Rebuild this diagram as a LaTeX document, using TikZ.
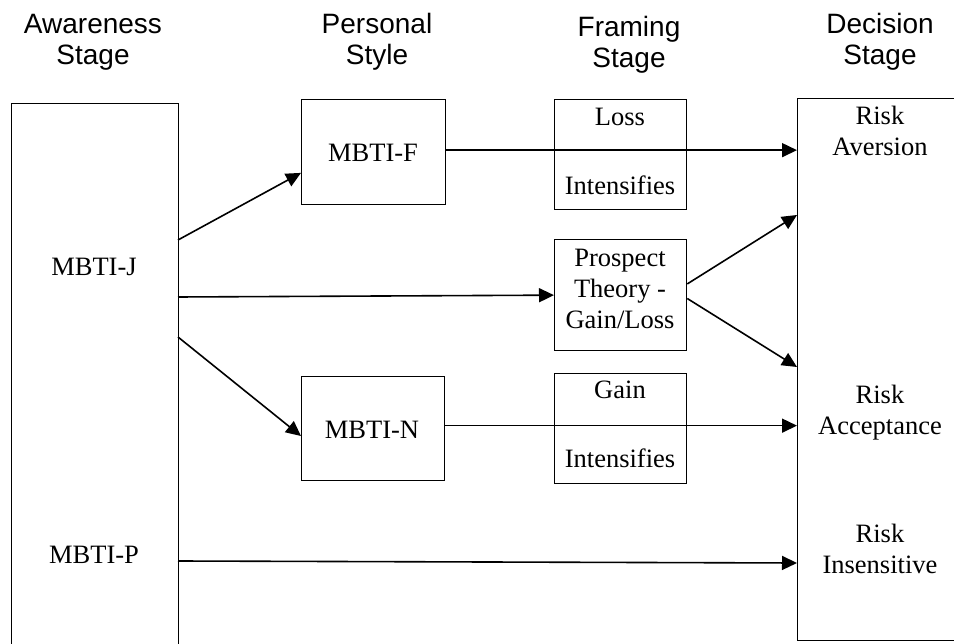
\documentclass[tikz,border=0pt]{standalone}
\usepackage{fontspec}
\setmainfont{Liberation Serif}
\newfontfamily\hdrfont{Liberation Sans}
\usetikzlibrary{arrows.meta,calc}
\begin{document}
\begin{tikzpicture}[x=1pt,y=-1pt,
  box/.style={draw, line width=1.3pt, inner sep=0pt, anchor=north west},
  hd/.style={font=\hdrfont\fontsize{28}{31}\selectfont, align=center, inner sep=0pt},
  tx/.style={font=\fontsize{26.5}{31}\selectfont, align=center, inner sep=0pt},
  arr/.style={line width=1.6pt, -{Triangle[length=15pt,width=14pt]}}]
\useasboundingbox (0,0) rectangle (954,644);
\clip (0,0) rectangle (954,644);
% headers
\node[hd] (h1) at (93,42) {Awareness\\Stage};
\node[hd] (h2) at (377,42) {Personal\\Style};
\node[hd] (h3) at (629,45) {Framing\\Stage};
\node[hd] (h4) at (880,42) {Decision\\Stage};
% boxes
\node[box, minimum width=167pt, minimum height=600pt] (aw) at (11,103) {};
\node[box, minimum width=144pt, minimum height=105pt] (mf) at (301,99) {};
\node[box, minimum width=132pt, minimum height=110pt] (loss) at (554,99) {};
\node[box, minimum width=132pt, minimum height=111pt] (pt) at (554,239) {};
\node[box, minimum width=132pt, minimum height=110pt] (gain) at (554,373) {};
\node[box, minimum width=143pt, minimum height=104pt] (mn) at (301,376) {};
\node[box, minimum width=200pt, minimum height=542pt] (dec) at (797,98) {};
% texts
\node[tx] (tj) at (94,267) {MBTI-J};
\node[tx] (tp) at (94,555) {MBTI-P};
\node[tx] (tf) at (373,153) {MBTI-F};
\node[tx] (tn) at (372,430) {MBTI-N};
\node[tx] (tl1) at (620,117) {Loss};
\node[tx] (tl2) at (620,185) {Intensifies};
\node[tx] (tpt) at (620,289) {Prospect\\Theory -\\Gain/Loss};
\node[tx] (tg1) at (620,390) {Gain};
\node[tx] (tg2) at (620,458) {Intensifies};
\node[tx] (ra) at (880,131) {Risk\\Aversion};
\node[tx] (rc) at (880,413) {Risk\\Acceptance};
\node[tx] (ri) at (880,549) {Risk\\Insensitive};
% connector end points on the tall boxes
\coordinate (j1) at (178,240);
\coordinate (j2) at (178,297);
\coordinate (j3) at (178,337);
\coordinate (p1) at (178,561);
\coordinate (d1) at (797,215);
\coordinate (d2) at (797,367);
\coordinate (d3) at (797,563);
% connectors
\draw[arr] (j1) -- ($(mf.south west)!0.305!(mf.north west)$);
\draw[arr] (j2) -- (pt.west);
\draw[arr] (j3) -- ($(mn.north west)!0.57!(mn.south west)$);
\draw[arr] ($(mf.east)+(0,-2)$) -- ($(mf.east -| dec.west)+(0,-2)$);
\draw[arr] ($(pt.north east)!0.4!(pt.south east)$) -- (d1);
\draw[arr] ($(pt.north east)!0.53!(pt.south east)$) -- (d2);
\draw[arr] ($(mn.east)+(0,-3)$) -- ($(mn.east -| dec.west)+(0,-3)$);
\draw[arr] (p1) -- (d3);
\end{tikzpicture}
\end{document}
